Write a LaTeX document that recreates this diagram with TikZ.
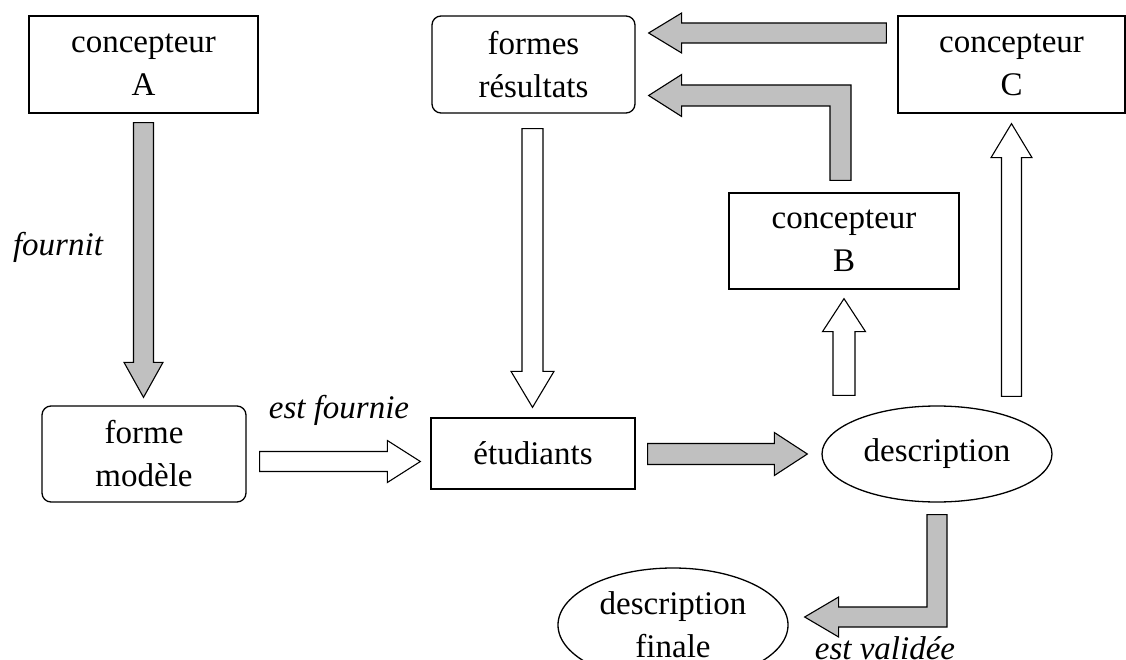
\documentclass[tikz,border=0pt]{standalone}
\usepackage{fontspec}
\setmainfont{Liberation Serif}
\usetikzlibrary{calc,shapes.geometric}
\definecolor{arrowgray}{RGB}{192,192,192}
\newcommand{\blockarrow}[6]{% #1 style, #2 start, #3 tip, #4 shaft half width, #5 head half width, #6 head length
  \draw[#1] let \p1=(#2), \p2=(#3), \n2={atan2(\y2-\y1,\x2-\x1)} in
    ($(\p1)+(\n2+90:#4pt)$) -- ($(\p2)+(\n2+180:#6pt)+(\n2+90:#4pt)$) --
    ($(\p2)+(\n2+180:#6pt)+(\n2+90:#5pt)$) -- (\p2) --
    ($(\p2)+(\n2+180:#6pt)+(\n2-90:#5pt)$) -- ($(\p2)+(\n2+180:#6pt)+(\n2-90:#4pt)$) --
    ($(\p1)+(\n2-90:#4pt)$) -- cycle;}
\begin{document}
\begin{tikzpicture}[x=1pt,y=-1pt,
  every node/.style={font=\fontsize{33}{43}\selectfont, inner sep=0pt},
  sq/.style={draw, line width=1.3pt, align=center},
  rnd/.style={sq, rounded corners=9pt},
  ell/.style={draw, ellipse, line width=1.3pt, align=center},
  garrow/.style={draw, line width=1.1pt, fill=arrowgray, line join=miter},
  warrow/.style={draw, line width=1.1pt, fill=white, line join=miter},
  lbl/.style={font=\itshape\fontsize{33}{43}\selectfont}]
\fill[white] (0,0) rectangle (1126,660);
\useasboundingbox (0,0) rectangle (1126,660);

% nodes
\node[sq, minimum width=229, minimum height=97] (A) at (143.5,64.5) {concepteur\\A};
\node[rnd, minimum width=203, minimum height=97] (fr) at (533.5,64.5) {formes\\résultats};
\node[sq, minimum width=227, minimum height=97] (C) at (1011.5,64.5) {concepteur\\C};
\node[sq, minimum width=230, minimum height=96] (B) at (844,241) {concepteur\\B};
\node[rnd, minimum width=204, minimum height=96] (fm) at (144,454) {forme\\modèle};
\node[sq, minimum width=204, minimum height=71] (et) at (533,453.5) {étudiants};
\node[ell, minimum width=230, minimum height=96] (desc) at (937,454) {description};
\node[ell, minimum width=230, minimum height=114] (fin) at (673,625) {description\\finale};

% labels
\node[lbl] (l1) at (58,247) {fournit};
\node[lbl] (l2) at (339,410) {est fournie};
\node[lbl] (l3) at (885,648) {est validée};

% straight block arrows
\coordinate (a1) at ($(A.south)+(0,9)$);
\coordinate (a2) at ($(a1 |- fm.north)+(0,-8)$);
\blockarrow{garrow}{a1}{a2}{10}{19.5}{35}

\coordinate (f1) at ($(fm.east)+(13,7.5)$);
\coordinate (f2) at ($(f1 -| et.west)+(-10,0)$);
\blockarrow{warrow}{f1}{f2}{10}{21}{33}

\coordinate (e1) at ($(et.east)+(12,0.5)$);
\coordinate (e2) at ($(e1 -| desc.west)+(-14,0)$);
\blockarrow{garrow}{e1}{e2}{10.5}{21.5}{33}

\coordinate (r1) at ($(fr.south)+(-1,15)$);
\coordinate (r2) at ($(r1 |- et.north)+(0,-10)$);
\blockarrow{warrow}{r1}{r2}{10.5}{21.5}{36}

\coordinate (b1) at ($(B.south |- desc.north)+(0,-10)$);
\coordinate (b2) at ($(B.south)+(0,9)$);
\blockarrow{warrow}{b1}{b2}{11}{21.5}{33}

\coordinate (c1) at ($(C.south |- desc.north)+(0,-9)$);
\coordinate (c2) at ($(C.south)+(0,10)$);
\blockarrow{warrow}{c1}{c2}{10}{20.5}{34}

\coordinate (t1) at ($(C.west)+(-11,-31.5)$);
\coordinate (t2) at ($(t1 -| fr.east)+(13,0)$);
\blockarrow{garrow}{t1}{t2}{10}{20}{33}

% bent arrow B -> formes resultats
\coordinate (bb) at ($(B.north)+(-3.5,-12)$);
\coordinate (bt) at ($(fr.east)+(13,31)$);
\coordinate (bc) at (bb |- bt);
\draw[garrow] ($(bb)+(-10.5,0)$) -- ($(bb)+(10.5,0)$) -- ($(bc)+(10.5,-10.5)$)
  -- ($(bt)+(33,-10.5)$) -- ($(bt)+(33,-21)$) -- (bt) -- ($(bt)+(33,21)$)
  -- ($(bt)+(33,10.5)$) -- ($(bc)+(-10.5,10.5)$) -- cycle;

% bent arrow description -> description finale
\coordinate (dd) at ($(desc.south)+(0,12)$);
\coordinate (dt) at ($(fin.east)+(16,-8)$);
\coordinate (dc) at (dd |- dt);
\draw[garrow] ($(dd)+(-10,0)$) -- ($(dd)+(10,0)$) -- ($(dc)+(10,10)$)
  -- ($(dt)+(34,10)$) -- ($(dt)+(34,20)$) -- (dt) -- ($(dt)+(34,-20)$)
  -- ($(dt)+(34,-10)$) -- ($(dc)+(-10,-10)$) -- cycle;
\end{tikzpicture}
\end{document}
